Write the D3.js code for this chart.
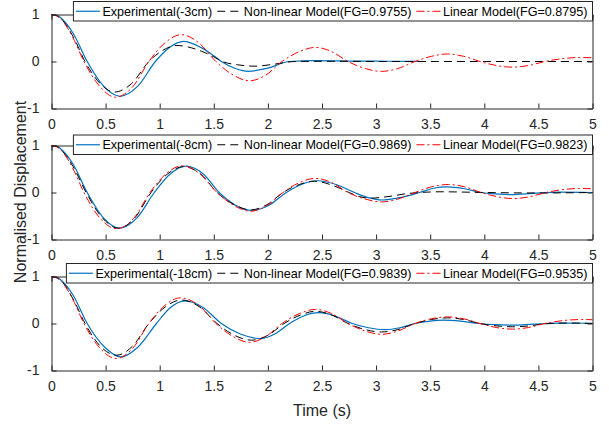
<!DOCTYPE html>
<html><head><meta charset="utf-8">
<script src="https://cdn.jsdelivr.net/npm/d3@7"></script>
<style>html,body{margin:0;padding:0;background:#fff;}svg{display:block;}</style>
</head><body>
<svg id="chart" width="609" height="424"></svg>
<script>
// ---------- data ----------
const timeTicks = [0, 0.5, 1, 1.5, 2, 2.5, 3, 3.5, 4, 4.5, 5];
const timeTickLabels = ["0", "0.5", "1", "1.5", "2", "2.5", "3", "3.5", "4", "4.5", "5"];
const dispTicks = [-1, 0, 1];
const dispTickLabels = ["-1", "0", "1"];
const seriesNames = ["Experimental", "Non-linear", "Linear"];
const legendP1 = ["Experimental(-3cm)", "Non-linear Model(FG=0.9755)", "Linear Model(FG=0.8795)"];
const legendP2 = ["Experimental(-8cm)", "Non-linear Model(FG=0.9869)", "Linear Model(FG=0.9823)"];
const legendP3 = ["Experimental(-18cm)", "Non-linear Model(FG=0.9839)", "Linear Model(FG=0.9535)"];

// Panel 1 (-3cm)
const p1ExpT = [0,0.05,0.1,0.2,0.33,0.48,0.634,0.8,0.96,1.09,1.22,1.38,1.5,1.57,1.7,1.82,2.0,2.2,2.45,2.8,3.1,3.4];
const p1ExpY = [1,0.98,0.9,0.6,0,-0.52,-0.74,-0.52,0,0.3,0.43,0.3,0.12,0,-0.15,-0.21,-0.14,0,0.02,0.01,0.005,0];
const p1NonT = [0,0.05,0.1,0.2,0.31,0.45,0.58,0.74,0.9,1.03,1.16,1.35,1.5,1.58,1.72,1.88,2.05,2.25,2.6,3,4,5];
const p1NonY = [1,0.97,0.88,0.53,0,-0.47,-0.65,-0.47,0,0.24,0.34,0.25,0.1,0,-0.07,-0.1,-0.06,0,0.005,0,0,0];
const p1LinT = [0,0.05,0.1,0.2,0.3,0.45,0.59,0.75,0.9,1.05,1.2,1.36,1.52,1.68,1.83,1.98,2.13,2.29,2.44,2.59,2.74,2.9,3.05,3.2,3.36,3.51,3.66,3.81,3.96,4.11,4.26,4.41,4.56,4.72,4.88,5];
const p1LinY = [1,0.97,0.87,0.5,0,-0.54,-0.76,-0.54,0,0.40,0.57,0.40,0,-0.29,-0.41,-0.29,0,0.21,0.30,0.21,0,-0.15,-0.21,-0.15,0,0.11,0.16,0.11,0,-0.085,-0.12,-0.085,0,0.06,0.085,0.08];

// Panel 2 (-8cm)
const p2ExpT = [0,0.05,0.1,0.2,0.33,0.48,0.63,0.79,0.95,1.1,1.24,1.4,1.55,1.7,1.85,2.01,2.17,2.32,2.46,2.63,2.8,2.93,3.05,3.22,3.4,3.53,3.65,3.82,3.97,4.1,4.25,4.45,4.7,5];
const p2ExpY = [1,0.98,0.9,0.6,0,-0.54,-0.76,-0.54,0,0.4,0.56,0.4,0,-0.27,-0.38,-0.27,0,0.18,0.25,0.17,0,-0.11,-0.16,-0.11,0,0.09,0.12,0.08,0,-0.03,-0.045,-0.02,0.01,0];
const p2NonT = [0,0.05,0.1,0.2,0.32,0.47,0.62,0.77,0.92,1.07,1.22,1.38,1.53,1.69,1.84,1.99,2.14,2.29,2.43,2.6,2.75,2.85,2.95,3.1,3.3,3.6,4.0,4.5,5];
const p2NonY = [1,0.98,0.88,0.55,0,-0.54,-0.76,-0.54,0,0.39,0.55,0.39,0,-0.26,-0.37,-0.26,0,0.17,0.24,0.15,0,-0.09,-0.12,-0.09,-0.02,0.015,0,-0.01,0];
const p2LinT = [0,0.05,0.1,0.2,0.3,0.45,0.6,0.76,0.91,1.06,1.21,1.37,1.53,1.69,1.84,1.99,2.14,2.29,2.44,2.59,2.74,2.9,3.05,3.2,3.36,3.51,3.67,3.82,3.97,4.12,4.27,4.42,4.57,4.72,4.87,5];
const p2LinY = [1,0.97,0.87,0.5,0,-0.55,-0.77,-0.55,0,0.40,0.57,0.40,0,-0.28,-0.40,-0.28,0,0.21,0.30,0.21,0,-0.14,-0.20,-0.14,0,0.12,0.17,0.12,0,-0.09,-0.13,-0.09,0,0.06,0.085,0.08];

// Panel 3 (-18cm)
const p3ExpT = [0,0.05,0.1,0.2,0.33,0.49,0.64,0.8,0.97,1.1,1.235,1.4,1.57,1.75,1.93,2.08,2.2,2.33,2.47,2.62,2.78,2.93,3.08,3.22,3.36,3.5,3.62,3.78,3.95,4.1,4.25,4.45,4.7,5];
const p3ExpY = [1,0.98,0.9,0.6,0,-0.5,-0.71,-0.5,0,0.34,0.48,0.34,0,-0.23,-0.32,-0.2,0,0.16,0.23,0.16,0,-0.09,-0.13,-0.09,0,0.05,0.07,0.05,0,-0.025,-0.035,-0.015,0.01,0.005];
const p3NonT = [0,0.05,0.1,0.2,0.31,0.45,0.6,0.75,0.9,1.05,1.2,1.37,1.53,1.69,1.85,2.0,2.15,2.3,2.44,2.59,2.74,2.9,3.05,3.2,3.36,3.51,3.66,3.81,3.96,4.11,4.26,4.42,4.58,4.8,5];
const p3NonY = [1,0.97,0.88,0.52,0,-0.48,-0.675,-0.48,0,0.35,0.50,0.35,0,-0.25,-0.355,-0.25,0,0.18,0.26,0.18,0,-0.13,-0.18,-0.13,0,0.085,0.12,0.085,0,-0.05,-0.07,-0.05,0,0.01,0];
const p3LinT = [0,0.05,0.1,0.2,0.3,0.45,0.6,0.75,0.9,1.05,1.19,1.36,1.52,1.68,1.83,1.98,2.13,2.29,2.44,2.59,2.74,2.9,3.05,3.2,3.36,3.51,3.66,3.81,3.96,4.11,4.26,4.41,4.56,4.72,4.9,5];
const p3LinY = [1,0.97,0.87,0.5,0,-0.53,-0.745,-0.53,0,0.39,0.545,0.39,0,-0.28,-0.40,-0.28,0,0.21,0.30,0.21,0,-0.16,-0.23,-0.16,0,0.10,0.14,0.10,0,-0.085,-0.12,-0.085,0,0.06,0.085,0.08];

// ---------- layout ----------
const svg = d3.select("#chart");
const FONT = "'Liberation Sans', Arial, Helvetica, sans-serif";
const AX = "#262626";
const panelTops = [14, 145, 276];
const panelH = 94;
const legendTops = [1.5, 135, 263.5];
const x = d3.scaleLinear().domain([0, 5]).range([51.5, 592.5]);

const styles = [
  {color: "#0072BD", width: 1.2, dash: null},
  {color: "#000000", width: 1, dash: "8,5"},
  {color: "#FF0000", width: 1, dash: "8,3,2,3"}
];

const panels = [
  {series: [[p1ExpT, p1ExpY], [p1NonT, p1NonY], [p1LinT, p1LinY]], legend: legendP1},
  {series: [[p2ExpT, p2ExpY], [p2NonT, p2NonY], [p2LinT, p2LinY]], legend: legendP2},
  {series: [[p3ExpT, p3ExpY], [p3NonT, p3NonY], [p3LinT, p3LinY]], legend: legendP3}
];

panels.forEach((p, i) => {
  const top = panelTops[i], bottom = top + panelH;
  const y = d3.scaleLinear().domain([-1, 1]).range([bottom + 0.5, top + 0.5]);
  const g = svg.append("g");

  // curves
  p.series.forEach((s, k) => {
    const pts = s[0].map((t, j) => [t, s[1][j]]);
    const line = d3.line().x(d => x(d[0])).y(d => y(d[1])).curve(d3.curveMonotoneX);
    const path = g.append("path").datum(pts).attr("d", line)
      .attr("fill", "none").attr("stroke", styles[k].color)
      .attr("stroke-width", styles[k].width).attr("stroke-linejoin", "round");
    if (styles[k].dash) path.attr("stroke-dasharray", styles[k].dash);
  });

  // axes (inward ticks, box)
  const xAxisB = d3.axisBottom(x).tickValues(timeTicks).tickSizeInner(-5).tickSizeOuter(0)
    .tickFormat((d, j) => timeTickLabels[j]).tickPadding(11);
  const gx = g.append("g").attr("transform", `translate(0,${bottom + 0.5})`).call(xAxisB);
  const xAxisT = d3.axisTop(x).tickValues(timeTicks).tickSizeInner(-5).tickSizeOuter(0).tickFormat("");
  const gxt = g.append("g").attr("transform", `translate(0,${top + 0.5})`).call(xAxisT);
  const yAxisL = d3.axisLeft(y).tickValues(dispTicks).tickSizeInner(-5).tickSizeOuter(0)
    .tickFormat((d, j) => dispTickLabels[j]).tickPadding(12);
  const gy = g.append("g").attr("transform", `translate(${x(0)},0)`).call(yAxisL);
  const yAxisR = d3.axisRight(y).tickValues(dispTicks).tickSizeInner(-5).tickSizeOuter(0).tickFormat("");
  const gyr = g.append("g").attr("transform", `translate(${x(5)},0)`).call(yAxisR);
  [gx, gxt, gy, gyr].forEach(a => {
    a.select(".domain").attr("stroke", AX).attr("stroke-width", 1);
    a.selectAll(".tick line").attr("stroke", AX).attr("stroke-width", 1);
    a.selectAll("text").attr("fill", AX).style("font-family", FONT).style("font-size", "14px");
  });
  gx.selectAll("text").attr("dy", "0.71em").attr("y", 11);

  // legend
  const lg = g.append("g");
  const ltop = legendTops[i], lh = 19.5;
  const padL = 2.5, sample = 24, gap = 2.5, entryGap = 5, padR = 5;
  const texts = p.legend.map(t => lg.append("text").text(t)
    .style("font-family", FONT).style("font-size", "12.6px").attr("fill", "#000"));
  const widths = texts.map(t => t.node().getComputedTextLength());
  const total = padL + d3.sum(widths) + 3 * (sample + gap) + 2 * entryGap + padR;
  const lx = x(5) - total;
  lg.insert("rect", "text").attr("x", lx).attr("y", ltop).attr("width", total).attr("height", lh)
    .attr("fill", "#fff").attr("stroke", AX).attr("stroke-width", 1);
  let cx = lx + padL;
  texts.forEach((t, k) => {
    const ly = ltop + lh / 2;
    const sl = lg.append("line").attr("x1", cx).attr("x2", cx + sample).attr("y1", ly).attr("y2", ly)
      .attr("stroke", styles[k].color).attr("stroke-width", styles[k].width);
    if (styles[k].dash) sl.attr("stroke-dasharray", styles[k].dash);
    cx += sample + gap;
    t.attr("x", cx).attr("y", ltop + 14.3);
    cx += widths[k] + entryGap;
  });
});

// axis titles
svg.append("text").attr("x", 322).attr("y", 415.5).attr("text-anchor", "middle")
  .attr("fill", AX).style("font-family", FONT).style("font-size", "16px").text("Time (s)");
svg.append("text").attr("transform", "translate(26,192) rotate(-90)").attr("text-anchor", "middle")
  .attr("fill", AX).style("font-family", FONT).style("font-size", "16px").text("Normalised Displacement");
</script>
</body></html>
